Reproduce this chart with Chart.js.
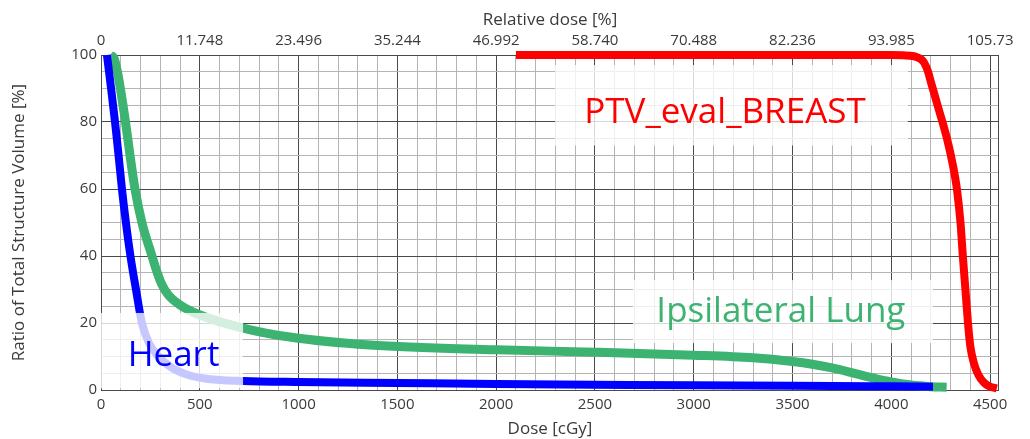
<!DOCTYPE html>
<html><head><meta charset="utf-8">
<script src="https://cdn.jsdelivr.net/npm/chart.js@4/dist/chart.umd.min.js"></script>
<style>html,body{margin:0;padding:0;background:#fff}#wrap{width:1030px;height:439px;position:relative}</style>
</head><body><div id="wrap"><canvas id="c" width="1030" height="439"></canvas></div>
<script>
// ---- data ----
const heartDose = [30, 51, 71, 89, 106, 126, 149, 177, 207, 243, 291, 359, 445, 542, 719, 997, 1500, 2000, 2500, 3000, 3500, 4000, 4211];
const heartVol  = [100, 90, 80, 70, 60, 50, 40, 30, 20, 14, 10, 6.6, 4.4, 3.3, 2.7, 2.4, 2.1, 1.8, 1.6, 1.4, 1.3, 1.1, 1.0];

const lungDose = [46, 66, 83, 98, 124, 147, 172, 207, 258, 279, 304, 339, 400, 501, 719, 956, 1361, 2000, 2500, 3000, 3300, 3500, 3600, 3700, 3800, 3900, 4000, 4100, 4200, 4280];
const lungVol  = [100, 99, 95, 90, 80, 70, 60, 50, 40, 36, 32, 28.5, 25.4, 22.4, 18.5, 15.8, 13.4, 12, 11.3, 10.4, 9.6, 8.5, 7.7, 6.6, 5.2, 3.7, 2.4, 1.5, 1.0, 0.8];

const ptvDose = [2100, 3000, 4000, 4060, 4109, 4135, 4155, 4168, 4186, 4200, 4234, 4282, 4312, 4332, 4350, 4362, 4375, 4388, 4400, 4418, 4441, 4469, 4499, 4534];
const ptvVol  = [100, 100, 100, 99.9, 99.7, 99.2, 98.5, 97.5, 95, 92, 85, 75, 67, 60, 50, 40, 30, 20, 13, 8, 4.5, 2.2, 1.0, 0.5];

const xMajorTicks = [0, 500, 1000, 1500, 2000, 2500, 3000, 3500, 4000, 4500];
const topTickLabels = ['0', '11.748', '23.496', '35.244', '46.992', '58.740', '70.488', '82.236', '93.985', '105.73'];
const yMajorTicks = [0, 20, 40, 60, 80, 100];
const xMinorStep = 100;
const yMinorStep = 5;
const xMax = 4545;

const labelTexts  = ['Heart', 'Ipsilateral Lung', 'PTV_eval_BREAST'];
const labelColors = ['#0000ff', '#3cb371', '#ff0000'];
const labelDose   = [367, 3441, 3158];
const labelVol    = [7.2, 20.3, 79.7];
const boxDose0 = [0, 2692, 2298];
const boxDose1 = [719, 4211, 4084];
const boxVol0  = [0.5, 14, 73];
const boxVol1  = [23, 32.8, 97];

// ---- helpers ----
const pts = (xs, ys) => xs.map((x, i) => ({x, y: ys[i]}));
function minorTicks(max, step) { const t = []; for (let v = 0; v <= max + 1e-9; v += step) t.push({value: v}); return t; }

const MAJOR = '#4a4a4a', MINOR = '#b4b4b4', TXT = '#3a3a3a';
const FONT = '"Open Sans", "Noto Sans", sans-serif';

const framePlugin = {
  id: 'frame',
  beforeDatasetsDraw(chart) {
    const {ctx, chartArea: a} = chart;
    ctx.save(); ctx.strokeStyle = MAJOR; ctx.lineWidth = 1;
    ctx.strokeRect(Math.round(a.left) + 0.5, Math.round(a.top) + 0.5, Math.round(a.right - a.left) - 1, Math.round(a.bottom - a.top));
    ctx.restore();
  }
};
const labelPlugin = {
  id: 'labels',
  afterDatasetsDraw(chart) {
    const {ctx} = chart; const xs = chart.scales.x, ys = chart.scales.y;
    ctx.save();
    labelTexts.forEach((t, i) => {
      const x0 = xs.getPixelForValue(boxDose0[i]), x1 = xs.getPixelForValue(boxDose1[i]);
      const y0 = ys.getPixelForValue(boxVol1[i]), y1 = ys.getPixelForValue(boxVol0[i]);
      ctx.fillStyle = 'rgba(255,255,255,0.78)';
      ctx.fillRect(x0, y0, x1 - x0, y1 - y0);
      ctx.fillStyle = labelColors[i];
      ctx.font = '35px ' + FONT;
      ctx.textAlign = 'center'; ctx.textBaseline = 'alphabetic';
      ctx.fillText(t, xs.getPixelForValue(labelDose[i]), ys.getPixelForValue(labelVol[i]));
    });
    ctx.restore();
  }
};

new Chart(document.getElementById('c'), {
  type: 'line',
  data: {
    datasets: [
      {label: 'Heart', data: pts(heartDose, heartVol), borderColor: '#0000ff', borderWidth: 8},
      {label: 'Ipsilateral Lung', data: pts(lungDose, lungVol), borderColor: '#3cb371', borderWidth: 9},
      {label: 'PTV_eval_BREAST', data: pts(ptvDose, ptvVol), borderColor: '#ff0000', borderWidth: 8}
    ].map(d => Object.assign(d, {pointRadius: 0, fill: false, cubicInterpolationMode: 'monotone', borderCapStyle: 'butt', borderJoinStyle: 'round', clip: false}))
  },
  options: {
    responsive: false, animation: false, devicePixelRatio: 1,
    layout: {padding: {left: 0, right: 31, top: 0, bottom: 0}, autoPadding: false},
    plugins: {legend: {display: false}, tooltip: {enabled: false}},
    scales: {
      x: {
        type: 'linear', position: 'bottom', min: 0, max: xMax,
        afterBuildTicks: s => { s.ticks = minorTicks(4500, xMinorStep); },
        afterFit: s => { s.height = 49; },
        grid: {color: c => (c.tick && xMajorTicks.includes(Math.round(c.tick.value))) ? MAJOR : MINOR, drawTicks: false, lineWidth: 1},
        border: {display: false},
        ticks: {autoSkip: false, maxRotation: 0, padding: 6, color: TXT, font: {family: FONT, size: 15},
          callback: v => xMajorTicks.includes(Math.round(v)) ? String(Math.round(v)) : ''},
        title: {display: true, text: 'Dose [cGy]', color: TXT, font: {family: FONT, size: 17}, padding: {top: 0, bottom: 0}}
      },
      x2: {
        type: 'linear', position: 'top', min: 0, max: xMax,
        afterBuildTicks: s => { s.ticks = xMajorTicks.map(v => ({value: v})); },
        afterFit: s => { s.height = 55; },
        grid: {display: false, drawTicks: false},
        border: {display: false},
        ticks: {autoSkip: false, maxRotation: 0, padding: 5, color: TXT, font: {family: FONT, size: 15},
          callback: (v, i) => topTickLabels[i]},
        title: {display: true, text: 'Relative dose [%]', color: TXT, font: {family: FONT, size: 17}, padding: {top: 10, bottom: 0}}
      },
      y: {
        type: 'linear', position: 'left', min: 0, max: 100,
        afterBuildTicks: s => { s.ticks = minorTicks(100, yMinorStep); },
        afterFit: s => { s.width = 101; },
        grid: {color: c => (c.tick && yMajorTicks.includes(Math.round(c.tick.value))) ? MAJOR : MINOR, drawTicks: false, lineWidth: 1},
        border: {display: false},
        ticks: {autoSkip: false, padding: 4, color: TXT, font: {family: FONT, size: 15},
          callback: v => yMajorTicks.includes(Math.round(v)) ? String(Math.round(v)) : ''},
        title: {display: true, text: 'Ratio of Total Structure Volume [%]', color: TXT, font: {family: FONT, size: 17}, padding: {top: 9, bottom: 0}}
      }
    }
  },
  plugins: [framePlugin, labelPlugin]
});
</script></body></html>
